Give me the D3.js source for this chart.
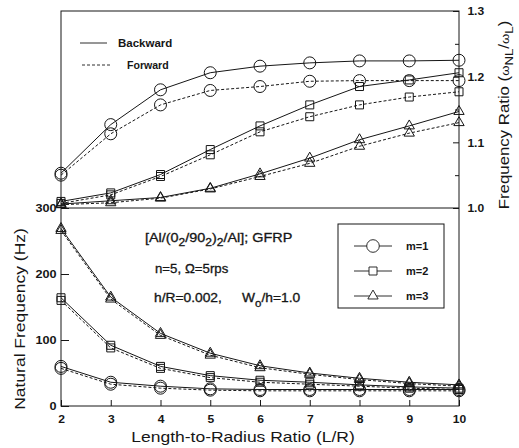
<!DOCTYPE html>
<html>
<head>
<meta charset="utf-8">
<script src="https://cdn.jsdelivr.net/npm/d3@7"></script>
<style>
  html, body { margin: 0; padding: 0; background: #fff; }
  svg { display: block; }
</style>
</head>
<body>
<svg id="chart" width="519" height="448"></svg>
<script>
// Length-to-radius ratios (x positions of every curve)
const lengthRatio = [2, 3, 4, 5, 6, 7, 8, 9, 10];

// Frequency ratio (nonlinear / linear), upper panel
const ratioM1Backward = [1.053, 1.127, 1.180, 1.206, 1.216, 1.221, 1.224, 1.224, 1.225];
const ratioM1Forward  = [1.050, 1.113, 1.157, 1.179, 1.185, 1.193, 1.194, 1.194, 1.194];
const ratioM2Backward = [1.010, 1.023, 1.051, 1.089, 1.125, 1.157, 1.185, 1.195, 1.206];
const ratioM2Forward  = [1.007, 1.020, 1.048, 1.081, 1.116, 1.139, 1.157, 1.169, 1.177];
const ratioM3Backward = [1.006, 1.011, 1.016, 1.030, 1.052, 1.076, 1.104, 1.125, 1.147];
const ratioM3Forward  = [1.005, 1.008, 1.015, 1.029, 1.048, 1.068, 1.094, 1.114, 1.130];

// Natural frequency in Hz, lower panel
const freqM1Backward = [60, 36, 30, 26, 25, 25, 25, 25, 25];
const freqM1Forward  = [57, 33, 27, 24, 23, 23, 23, 23, 23];
const freqM2Backward = [164, 92, 60, 46, 39, 36, 32, 29, 27];
const freqM2Forward  = [160, 88, 57, 43, 36, 33, 30, 27, 25];
const freqM3Backward = [269, 165, 110, 80, 61, 50, 42, 36, 32];
const freqM3Forward  = [266, 162, 107, 77, 58, 48, 40, 34, 30];

// Tick values
const freqTicks = [0, 100, 200, 300];
const ratioTicks = [1.0, 1.1, 1.2, 1.3];
const ratioMinorTicks = [1.05, 1.15, 1.25];

const modeLabels = ["m=1", "m=2", "m=3"];
const directionLabels = ["Backward", "Forward"];

const FONT = "'Liberation Sans', Arial, Helvetica, sans-serif";
const INK = "#161616";

const svg = d3.select("#chart");

const x = d3.scaleLinear().domain([2, 10]).range([61, 459]);
const yFreq = d3.scaleLinear().domain([0, 300]).range([406, 208]);
const yRatio = d3.scaleLinear().domain([1.0, 1.3]).range([208, 11]);

const symbols = [d3.symbolCircle, d3.symbolSquare, d3.symbolTriangle];
const symbolSizes = [113, 64, 46];
const dashes = [null, "3,2"];

// text helper: positioned, optionally rotated and widened
function label(x0, y0, opts = {}) {
  const t = svg.append("text")
    .attr("transform", `translate(${x0},${y0}) rotate(${opts.rotate || 0}) scale(${opts.sx || 1},1)`)
    .attr("font-family", FONT)
    .attr("font-size", opts.size || 12)
    .attr("font-weight", opts.weight || "normal")
    .attr("text-anchor", opts.anchor || "start")
    .attr("fill", INK);
  if (opts.heavy) t.attr("stroke", INK).attr("stroke-width", 0.3);
  if (opts.text !== undefined) t.text(opts.text);
  return t;
}

// ---- frame ----
svg.append("rect")
  .attr("x", x(2)).attr("y", yRatio(1.3))
  .attr("width", x(10) - x(2)).attr("height", yFreq(0) - yRatio(1.3))
  .attr("fill", "none").attr("stroke", INK).attr("stroke-width", 1);
svg.append("line")
  .attr("x1", x(2)).attr("x2", x(10))
  .attr("y1", yFreq(300)).attr("y2", yFreq(300))
  .attr("stroke", INK).attr("stroke-width", 1);

// ---- axes ----
function styleAxis(g, size, weight, sx) {
  g.select(".domain").remove();
  g.selectAll("line").attr("stroke", INK).attr("stroke-width", 1);
  g.selectAll("text")
    .attr("font-family", FONT).attr("font-size", size)
    .attr("font-weight", weight).attr("fill", INK)
    .attr("transform", `scale(${sx},1)`);
}

svg.append("g")
  .attr("transform", `translate(0,${yFreq(0)})`)
  .call(d3.axisBottom(x).tickValues(lengthRatio).tickFormat(d3.format("d"))
    .tickSizeInner(-6).tickSizeOuter(0).tickPadding(9))
  .call(g => styleAxis(g, 11.5, "bold", 1.05));

svg.append("g")
  .attr("transform", `translate(${x(2)},0)`)
  .call(d3.axisLeft(yFreq).tickValues(freqTicks).tickFormat(d3.format("d"))
    .tickSizeInner(-8).tickSizeOuter(0).tickPadding(4))
  .call(g => styleAxis(g, 11.5, "bold", 1.1));

svg.append("g")
  .attr("transform", `translate(${x(10)},0)`)
  .call(d3.axisRight(yRatio).tickValues(ratioTicks).tickFormat(d3.format(".1f"))
    .tickSizeInner(-6).tickSizeOuter(0).tickPadding(8))
  .call(g => styleAxis(g, 11.5, "bold", 1.05));

svg.append("g")
  .attr("transform", `translate(${x(10)},0)`)
  .call(d3.axisRight(yRatio).tickValues(ratioMinorTicks).tickFormat("")
    .tickSizeInner(-4).tickSizeOuter(0))
  .call(g => styleAxis(g, 11.5, "bold", 1));

// ---- curves ----
const ratioSeries = [
  [ratioM1Backward, ratioM1Forward],
  [ratioM2Backward, ratioM2Forward],
  [ratioM3Backward, ratioM3Forward]
];
const freqSeries = [
  [freqM1Backward, freqM1Forward],
  [freqM2Backward, freqM2Forward],
  [freqM3Backward, freqM3Forward]
];

function drawPanel(series, yScale) {
  series.forEach((pair, m) => {
    pair.forEach((vals, dir) => {
      const pts = lengthRatio.map((lr, i) => [lr, vals[i]]);
      svg.append("path")
        .datum(pts)
        .attr("d", d3.line().x(d => x(d[0])).y(d => yScale(d[1])))
        .attr("fill", "none")
        .attr("stroke", INK)
        .attr("stroke-width", 1)
        .attr("stroke-dasharray", dashes[dir]);
      svg.append("g").selectAll("path")
        .data(pts)
        .join("path")
        .attr("transform", d => `translate(${x(d[0])},${yScale(d[1])})`)
        .attr("d", d3.symbol().type(symbols[m]).size(symbolSizes[m]))
        .attr("fill", "none")
        .attr("stroke", INK)
        .attr("stroke-width", 1);
    });
  });
}
drawPanel(ratioSeries, yRatio);
drawPanel(freqSeries, yFreq);

// ---- direction legend (upper panel) ----
const dirLegend = [
  { y: 43, x1: 80, x2: 107, tx: 118, sx: 1.0 },
  { y: 65, x1: 82, x2: 110, tx: 127, sx: 0.92 }
];
directionLabels.forEach((name, i) => {
  const L = dirLegend[i];
  svg.append("line")
    .attr("x1", L.x1).attr("x2", L.x2).attr("y1", L.y).attr("y2", L.y)
    .attr("stroke", INK).attr("stroke-width", 0.9)
    .attr("stroke-dasharray", dashes[i]);
  label(L.tx, L.y + 4, { text: name, size: 11.5, weight: "bold", sx: L.sx });
});

// ---- mode legend (lower panel) ----
svg.append("rect")
  .attr("x", 338).attr("y", 224).attr("width", 106).attr("height", 84)
  .attr("fill", "none").attr("stroke", INK).attr("stroke-width", 1);
modeLabels.forEach((name, i) => {
  const ly = 246 + i * 25;
  svg.append("line")
    .attr("x1", 354).attr("x2", 392).attr("y1", ly).attr("y2", ly)
    .attr("stroke", INK).attr("stroke-width", 0.9);
  svg.append("path")
    .attr("transform", `translate(373,${ly})`)
    .attr("d", d3.symbol().type(symbols[i]).size(i === 0 ? 125 : symbolSizes[i]))
    .attr("fill", "#fff").attr("stroke", INK).attr("stroke-width", 0.9);
  label(406, ly + 4, { text: name, size: 11, weight: "bold" });
});

// ---- annotations ----
const ann1 = label(145, 242, { size: 12, sx: 1.2, heavy: true });
ann1.append("tspan").text("[Al/(0");
ann1.append("tspan").attr("dy", 4).attr("font-size", 10).text("2");
ann1.append("tspan").attr("dy", -4).text("/90");
ann1.append("tspan").attr("dy", 4).attr("font-size", 10).text("2");
ann1.append("tspan").attr("dy", -4).text(")");
ann1.append("tspan").attr("dy", 4).attr("font-size", 10).text("2");
ann1.append("tspan").attr("dy", -4).text("/Al]; GFRP");

label(155, 273, { text: "n=5,", size: 12, sx: 1.1, heavy: true });
label(185, 273, { text: "\u03A9=5rps", size: 12, sx: 1.1, heavy: true });

label(154, 302, { text: "h/R=0.002,", size: 12, sx: 1.15, heavy: true });
const ann3 = label(242, 302, { size: 12, sx: 1.15, heavy: true });
ann3.append("tspan").text("W");
ann3.append("tspan").attr("dy", 5).attr("font-size", 10).text("o");
ann3.append("tspan").attr("dy", -5).text("/h=1.0");

// ---- axis titles ----
label(243, 442, { text: "Length-to-Radius Ratio (L/R)", size: 14, sx: 1.25, anchor: "middle" });
label(25, 319, { text: "Natural Frequency (Hz)", size: 14, sx: 1.25, anchor: "middle", rotate: -90 });

const rt = label(509, 115, { size: 14, sx: 1.2, anchor: "middle", rotate: -90 });
rt.append("tspan").text("Frequency Ratio (");
rt.append("tspan").attr("font-size", 11).text("\u03C9");
rt.append("tspan").attr("dy", 4).attr("font-size", 11).text("NL");
rt.append("tspan").attr("dy", -4).text("/");
rt.append("tspan").attr("font-size", 11).text("\u03C9");
rt.append("tspan").attr("dy", 4).attr("font-size", 11).text("L");
rt.append("tspan").attr("dy", -4).text(")");
</script>
</body>
</html>
